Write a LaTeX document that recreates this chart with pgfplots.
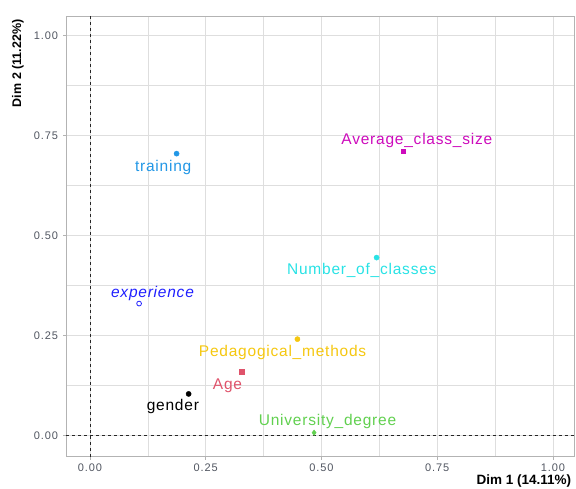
\documentclass[border=0pt]{standalone}
\usepackage{pgfplots}
\pgfplotsset{compat=1.18}
\usepackage{fontspec}
\setmainfont{Liberation Sans}
\newfontfamily\lblfont[LetterSpace=5]{Liberation Sans}
\newfontfamily\tickfont[LetterSpace=8]{Liberation Sans}
\definecolor{ctrain}{HTML}{2297E6}
\definecolor{cavg}{HTML}{CD0BBC}
\definecolor{cnum}{HTML}{28E2E5}
\definecolor{cexp}{HTML}{1F1FFF}
\definecolor{cped}{HTML}{F5C710}
\definecolor{cage}{HTML}{DF536B}
\definecolor{cuni}{HTML}{61D04F}
\definecolor{gridc}{HTML}{DEDEDE}
\definecolor{borderc}{HTML}{B3B3B3}
\definecolor{tickc}{HTML}{505560}
\begin{document}
\begin{tikzpicture}
\begin{axis}[
  scale only axis,
  width=508.1pt, height=440.8pt,
  xmin=-0.0508, xmax=1.0467,
  ymin=-0.0533, ymax=1.0493,
  xtick={0,0.25,0.5,0.75,1}, ytick={0,0.25,0.5,0.75,1},
  minor tick num=1,
  grid=both,
  major grid style={gridc, line width=0.6pt},
  minor grid style={gridc, line width=0.4pt},
  axis line style={borderc, line width=0.8pt},
  tick align=outside,
  major tick length=3pt, minor tick length=0pt,
  tick style={borderc, line width=0.6pt},
  xtick pos=bottom, ytick pos=left,
  /pgf/number format/.cd, fixed, fixed zerofill, precision=2, assume math mode=true,
  /pgfplots/.cd,
  ticklabel style={font=\tickfont\fontsize{11}{13}\selectfont, text=tickc},
  xticklabel style={yshift=-0.5pt},
  yticklabel style={xshift=-2pt},
  clip=false,
]
\addplot[black!85, dashed, line width=0.9pt] coordinates {(0,-0.0533) (0,1.0493)};
\addplot[black!85, dashed, line width=0.9pt] coordinates {(-0.0508,0) (1.0467,0)};
% points
\addplot[only marks, mark=*, mark size=2.6pt, ctrain] coordinates {(0.187,0.705)};
\addplot[only marks, mark=square*, mark size=2.1pt, cavg] coordinates {(0.677,0.711)};
\addplot[only marks, mark=*, mark size=2.6pt, cnum] coordinates {(0.619,0.445)};
\addplot[only marks, mark=o, mark size=2.4pt, cexp, line width=0.8pt] coordinates {(0.106,0.330)};
\addplot[only marks, mark=*, mark size=2.6pt, cped] coordinates {(0.448,0.241)};
\addplot[only marks, mark=square*, mark size=2.3pt, cage] coordinates {(0.328,0.160)};
\addplot[only marks, mark=*, mark size=2.6pt, black] coordinates {(0.213,0.104)};
\addplot[only marks, mark=diamond*, mark size=2.8pt, cuni] coordinates {(0.484,0.007)};
% labels
\begin{scope}[every node/.style={font=\lblfont\fontsize{15.5}{17}\selectfont, inner sep=0pt}]
\node[text=ctrain] at (axis cs:0.158,0.671) {training};
\node[text=cavg] at (axis cs:0.706,0.739) {Average\_class\_size};
\node[text=cnum] at (axis cs:0.587,0.412) {Number\_of\_classes};
\node[text=cexp, font=\lblfont\fontsize{15.5}{17}\selectfont\itshape] at (axis cs:0.135,0.356) {experience};
\node[text=cped] at (axis cs:0.416,0.207) {Pedagogical\_methods};
\node[text=cage] at (axis cs:0.297,0.124) {Age};
\node[text=black] at (axis cs:0.179,0.072) {gender};
\node[text=cuni] at (axis cs:0.513,0.034) {University\_degree};
\end{scope}
\node[anchor=east, font=\fontsize{13.5}{15}\selectfont\bfseries] at ([yshift=-24.5pt]rel axis cs:1,0) {Dim 1 (14.11\%)};
\node[anchor=east, rotate=90, font=\fontsize{12.5}{14}\selectfont\bfseries] at ([xshift=-48.5pt]rel axis cs:0,1) {Dim 2 (11.22\%)};
\end{axis}
\pgfresetboundingbox
\path (-66.5pt,-31.2pt) rectangle (509.5pt,456.8pt);
\end{tikzpicture}
\end{document}
